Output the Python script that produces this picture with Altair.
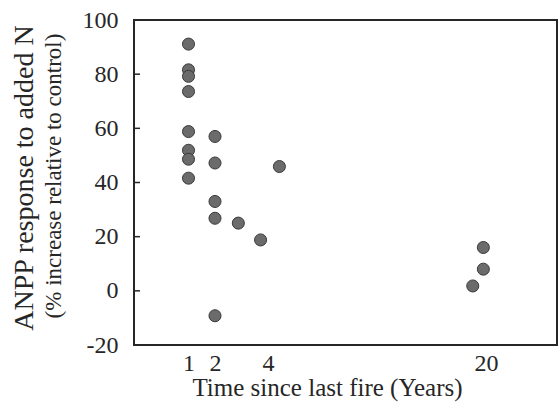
import altair as alt
import pandas as pd

# Years since the last fire and the ANPP response (% increase over control)
years = [1, 1, 1, 1, 1, 1, 1, 1,
         2, 2, 2, 2, 2,
         2.88, 3.72, 4.43,
         19.9, 19.9, 19.5]
response = [91.1, 81.6, 79.2, 73.6, 58.8, 51.9, 48.6, 41.6,
            57.0, 47.2, 33.0, 26.8, -9.2,
            25.0, 18.8, 45.9,
            16.0, 8.0, 1.8]

x_ticks = [1, 2, 4, 20]
y_ticks = [-20, 0, 20, 40, 60, 80, 100]
inner_ticks = [0, 20, 40, 60, 80]

y_title = "ANPP response to added N"
y_subtitle = "(% increase relative to control)"
x_title = "Time since last fire (Years)"

FONT = "Liberation Serif"
INK = "#262626"

pts = pd.DataFrame({"years": years, "response": response})

# broken time axis: early years spread out, then a jump to ~20 years
x_scale = alt.Scale(domain=[0, 6, 18, 22], range=[28, 187, 299, 405],
                    nice=False, zero=False)
y_scale = alt.Scale(domain=[-20, 100], nice=False, zero=False)

y_axis = alt.Axis(values=y_ticks, ticks=False, domain=False, grid=False,
                  labelExpr="'' + datum.value",
                  labelFont=FONT, labelFontSize=24, labelColor=INK,
                  labelPadding=16, labelFlush=False, title="")

points = alt.Chart(pts).mark_point(
    filled=True, size=145, fill="#6b6b6b", stroke="#3a3a3a",
    strokeWidth=1, opacity=1
).encode(
    x=alt.X("years:Q", scale=x_scale,
            axis=alt.Axis(values=x_ticks, ticks=False, domain=False, grid=False,
                          labelFont=FONT, labelFontSize=24, labelColor=INK,
                          labelPadding=6, labelFlush=False,
                          title=x_title, titleFont=FONT, titleFontSize=25,
                          titleFontWeight="normal", titleColor=INK,
                          titleX=193, titleY=50, titleAlign="center",
                          titleBaseline="alphabetic", titleAnchor="start")),
    y=alt.Y("response:Q", scale=y_scale, axis=y_axis)
)

# short inward tick marks on the left frame
ticks = alt.Chart(pd.DataFrame({"v": inner_ticks})).mark_rule(
    color=INK, strokeWidth=1.5
).encode(
    y=alt.Y("v:Q", scale=y_scale, axis=y_axis),
    x=alt.value(0), x2=alt.value(6)
)

titles = pd.DataFrame({"label": [y_title, y_subtitle]})
title_main = alt.Chart(titles.iloc[[0]]).mark_text(
    angle=270, align="center", baseline="alphabetic", font=FONT,
    fontSize=28, color=INK
).encode(text="label:N", x=alt.value(-101), y=alt.value(158))
title_sub = alt.Chart(titles.iloc[[1]]).mark_text(
    angle=270, align="center", baseline="alphabetic", font=FONT,
    fontSize=23, color=INK
).encode(text="label:N", x=alt.value(-73), y=alt.value(156))

chart = alt.layer(points, ticks, title_main, title_sub).properties(
    width=423, height=325,
    autosize=alt.AutoSizeParams(type="none"),
    padding={"left": 134, "top": 20, "right": 2, "bottom": 66},
    background="white"
).configure_view(
    stroke=INK, strokeWidth=2
).configure_axis(
    labelFont=FONT, titleFont=FONT
).configure_text(
    font=FONT
)

chart.save("out.html", embed_options={"renderer": "svg", "actions": False})
